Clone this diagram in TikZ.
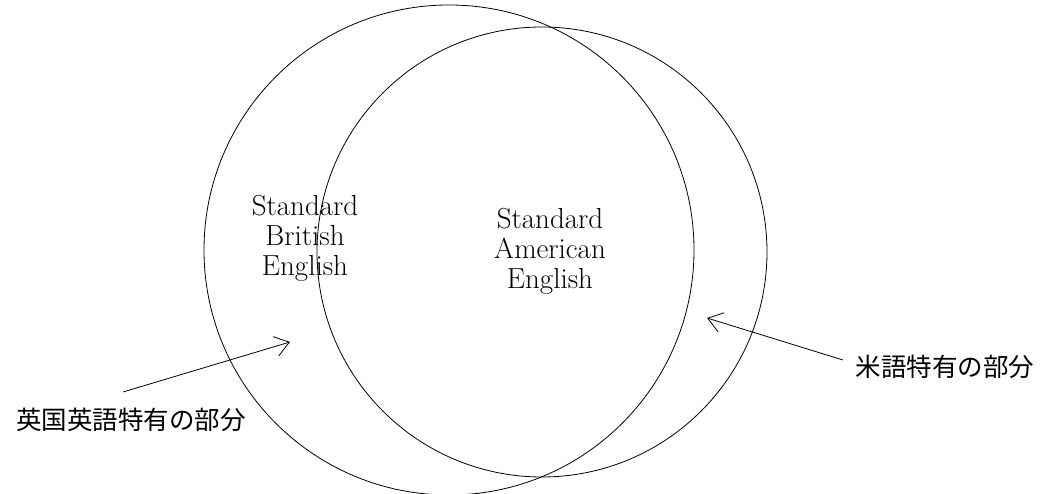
\documentclass[tikz,border=0pt]{standalone}
\usepackage{fontspec}
\newfontfamily\cjk{Noto Sans CJK JP}
\usetikzlibrary{arrows.meta}
\begin{document}
\begin{tikzpicture}[x=1pt,y=-1pt,
  ring/.style={draw,circle,inner sep=0pt,line width=0.8pt},
  eng/.style={align=center,font=\fontsize{29}{30}\selectfont,inner sep=0pt},
  jlabel/.style={font=\cjk\fontsize{25.5}{28}\selectfont,inner sep=0pt},
  pointer/.style={line width=0.8pt,-{Straight Barb[length=14pt,width=20pt,line width=0.8pt]}}]
\useasboundingbox (0,0) rectangle (1045,494);
\node[ring,minimum size=490pt] (brit) at (449,250) {};
\node[ring,minimum size=450pt] (amer) at (542,252) {};
\node[eng] (britlbl) at (305,238) {Standard\\British\\English};
\node[eng] (amerlbl) at (550,251) {Standard\\American\\English};
\node[jlabel] (ukonly) at (131,420) {英国英語特有の部分};
\node[jlabel] (usonly) at (945,367) {米語特有の部分};
\coordinate (uktail) at (123,392);
\coordinate (uktip) at (290,342);
\coordinate (ustail) at (843,360);
\coordinate (ustip) at (707,318);
\draw[pointer] (uktail) -- (uktip);
\draw[pointer] (ustail) -- (ustip);
\end{tikzpicture}
\end{document}
